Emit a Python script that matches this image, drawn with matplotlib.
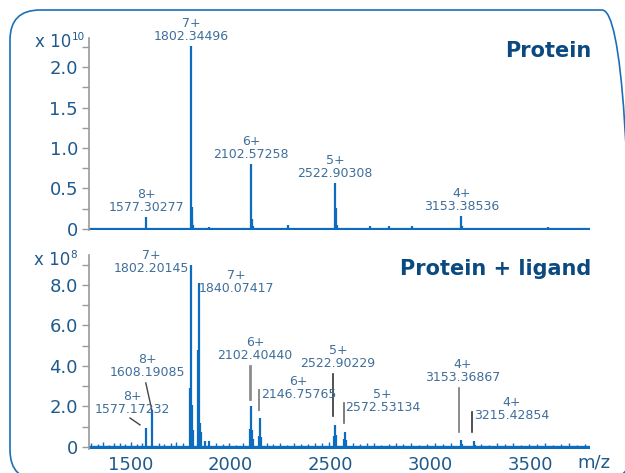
import numpy as np
import matplotlib
matplotlib.use("Agg")
import matplotlib.pyplot as plt
from matplotlib.patches import FancyBboxPatch

# --- data (m/z, intensity) ---
# Protein (x 1e10)
prot_mz = [1577.3, 1802.3, 1805.5, 1808.5, 1813, 1893, 2102.6, 2106, 2111,
           2287, 2522.9, 2526, 2531, 2697, 2792, 2907, 3153.4, 3158, 3587]
prot_int = [0.15, 2.26, 0.27, 0.12, 0.05, 0.02, 0.80, 0.12, 0.04,
            0.05, 0.57, 0.26, 0.05, 0.04, 0.03, 0.03, 0.16, 0.03, 0.02]

# Protein + ligand (x 1e8)
lig_mz = [1577.2, 1608.2, 1799, 1802.2, 1806, 1810, 1835, 1840.1, 1845, 1850,
          1872, 1890, 2099, 2102.4, 2106, 2111, 2143, 2146.8, 2151, 2519,
          2522.9, 2527, 2569, 2572.5, 2577, 3153.4, 3158, 3215.4, 3220]
lig_int = [0.95, 1.83, 2.90, 9.00, 2.05, 0.85, 4.80, 8.10, 1.20, 0.75,
           0.30, 0.30, 0.90, 2.04, 0.85, 0.40, 0.55, 1.43, 0.50, 0.55,
           1.09, 0.60, 0.40, 0.76, 0.35, 0.35, 0.15, 0.30, 0.12]

noise_mz = [1300, 1335, 1362, 1390, 1418, 1447, 1470, 1500, 1530, 1555,
            1640, 1668, 1700, 1725, 1760, 1925, 1960, 1990, 2025, 2060,
            2180, 2210, 2245, 2280, 2315, 2350, 2385, 2420, 2455, 2490,
            2610, 2645, 2680, 2715, 2750, 2790, 2825, 2860, 2900, 2940,
            2980, 3020, 3060, 3100, 3250, 3290, 3330, 3370, 3410, 3450,
            3490, 3530, 3570, 3610, 3650, 3690, 3730, 3770]
noise_int = [0.22, 0.15, 0.25, 0.12, 0.18, 0.20, 0.14, 0.25, 0.16, 0.22,
             0.20, 0.15, 0.18, 0.25, 0.20, 0.22, 0.15, 0.18, 0.12, 0.20,
             0.18, 0.15, 0.22, 0.12, 0.20, 0.16, 0.14, 0.22, 0.18, 0.25,
             0.20, 0.14, 0.18, 0.22, 0.12, 0.16, 0.20, 0.15, 0.18, 0.12,
             0.16, 0.20, 0.14, 0.18, 0.16, 0.12, 0.18, 0.14, 0.20, 0.12,
             0.16, 0.14, 0.18, 0.12, 0.15, 0.18, 0.12, 0.16]

prot_labels = [("8+\n1577.30277", 1577.3, 0.15),
               ("7+\n1802.34496", 1802.3, 2.26),
               ("6+\n2102.57258", 2102.6, 0.80),
               ("5+\n2522.90308", 2522.9, 0.57),
               ("4+\n3153.38536", 3153.4, 0.16)]

# text, text x, text y, ha, leader line (x0, y0, x1, y1), line colour, lw
lig_labels = [
    ("7+\n1802.20145", 1602, 9.11, "center", None, None, 0),
    ("7+\n1840.07417", 2031, 8.15, "center", None, None, 0),
    ("8+\n1608.19085", 1585, 3.98, "center", (1576, 3.16, 1606, 1.83), "#444444", 1.0),
    ("8+\n1577.17232", 1510, 2.15, "center", (1497, 1.43, 1547, 1.09), "#444444", 1.0),
    ("6+\n2102.40440", 2122, 4.86, "center", (2098, 4.0, 2098, 2.37), "#8c8c8c", 2.0),
    ("6+\n2146.75765", 2340, 2.89, "center", (2143, 2.81, 2143, 1.83), "#8c8c8c", 1.4),
    ("5+\n2522.90229", 2537, 4.44, "center", (2513, 3.6, 2513, 1.53), "#333333", 1.2),
    ("5+\n2572.53134", 2761, 2.25, "center", (2566, 2.17, 2566, 1.19), "#666666", 1.2),
    ("4+\n3153.36867", 3162, 3.75, "center", (3141, 2.91, 3141, 0.74), "#777777", 1.2),
    ("4+\n3215.42854", 3406, 1.88, "center", (3208, 1.73, 3208, 0.74), "#333333", 1.2),
]

blue = "#0b6cc0"
tick_col = "#1f5a8c"
ann_col = "#3f6e9a"
spine_col = "#9a9a9a"
W, H = 625, 473

fig = plt.figure(figsize=(6.25, 4.73), dpi=100)

frame = FancyBboxPatch((0.10, -0.07), 6.22, 4.70,
                       boxstyle="round,pad=0,rounding_size=0.3",
                       transform=fig.dpi_scale_trans, fill=False,
                       edgecolor="#1b70b8", linewidth=1.2)
fig.patches.append(frame)

ax1 = fig.add_axes([89 / W, 1 - 230 / H, 501 / W, 192 / H])
ax2 = fig.add_axes([89 / W, 1 - 449 / H, 501 / W, 194 / H])

for ax in (ax1, ax2):
    ax.set_xlim(1292, 3797)
    ax.patch.set_alpha(0)
    for s in ("top", "right", "bottom"):
        ax.spines[s].set_visible(False)
    ax.spines["left"].set_color(spine_col)
    ax.spines["left"].set_linewidth(1.2)
    ax.tick_params(axis="y", which="both", color=spine_col, length=5,
                   width=1.0, labelsize=13, labelcolor=tick_col, pad=3)

# top panel
ax1.axhline(0, color=blue, lw=1.6)
ax1.vlines(prot_mz, 0, prot_int, color=blue, lw=1.6)
ax1.set_ylim(-0.015, 2.36)
ax1.set_yticks([0, 0.5, 1.0, 1.5, 2.0])
ax1.set_yticklabels(["0", "0.5", "1.0", "1.5", "2.0"])
ax1.set_yticks(np.arange(0.25, 2.3, 0.5), minor=True)
ax1.set_xticks([])
for txt, mz, inten in prot_labels:
    ax1.annotate(txt, (mz, inten), xytext=(0, 2), textcoords="offset points",
                 ha="center", va="bottom", fontsize=9, color=ann_col,
                 linespacing=1.0)
ax1.text(1.003, 0.932, "Protein", transform=ax1.transAxes, ha="right",
         va="center", fontsize=15, fontweight="bold", color="#0b4a80")

# bottom panel
ax2.axhline(0, color=blue, lw=2.4)
ax2.vlines(noise_mz, 0, noise_int, color=blue, lw=1.0)
ax2.vlines(lig_mz, 0, lig_int, color=blue, lw=1.6)
ax2.set_ylim(-0.1, 9.48)
ax2.set_yticks([0, 2, 4, 6, 8])
ax2.set_yticklabels(["0", "2.0", "4.0", "6.0", "8.0"])
ax2.set_yticks([1, 3, 5, 7, 9], minor=True)
ax2.set_xticks([1500, 2000, 2500, 3000, 3500])
ax2.tick_params(axis="x", length=0, labelsize=13, labelcolor=tick_col, pad=5)
for txt, tx, ty, ha, line, lc, lw in lig_labels:
    ax2.text(tx, ty, txt, ha=ha, va="center", fontsize=9, color=ann_col,
             linespacing=1.0)
    if line is not None:
        ax2.plot([line[0], line[2]], [line[1], line[3]], color=lc, lw=lw)
ax2.text(1.003, 0.928, "Protein + ligand", transform=ax2.transAxes, ha="right",
         va="center", fontsize=15, fontweight="bold", color="#0b4a80")

fig.text(594 / W, 1 - 462 / H, "m/z", ha="center", va="center", fontsize=13,
         color=tick_col)

# scale factors
fig.text(71 / W, 1 - 47 / H, "x 10", ha="right", va="baseline", fontsize=12,
         color=tick_col)
fig.text(71.5 / W, 1 - 40 / H, "10", ha="left", va="baseline", fontsize=7.5,
         color=tick_col)
fig.text(70 / W, 1 - 265 / H, "x 10", ha="right", va="baseline", fontsize=12,
         color=tick_col)
fig.text(70.5 / W, 1 - 258 / H, "8", ha="left", va="baseline", fontsize=7.5,
         color=tick_col)

fig.savefig("out.png", dpi=100)
